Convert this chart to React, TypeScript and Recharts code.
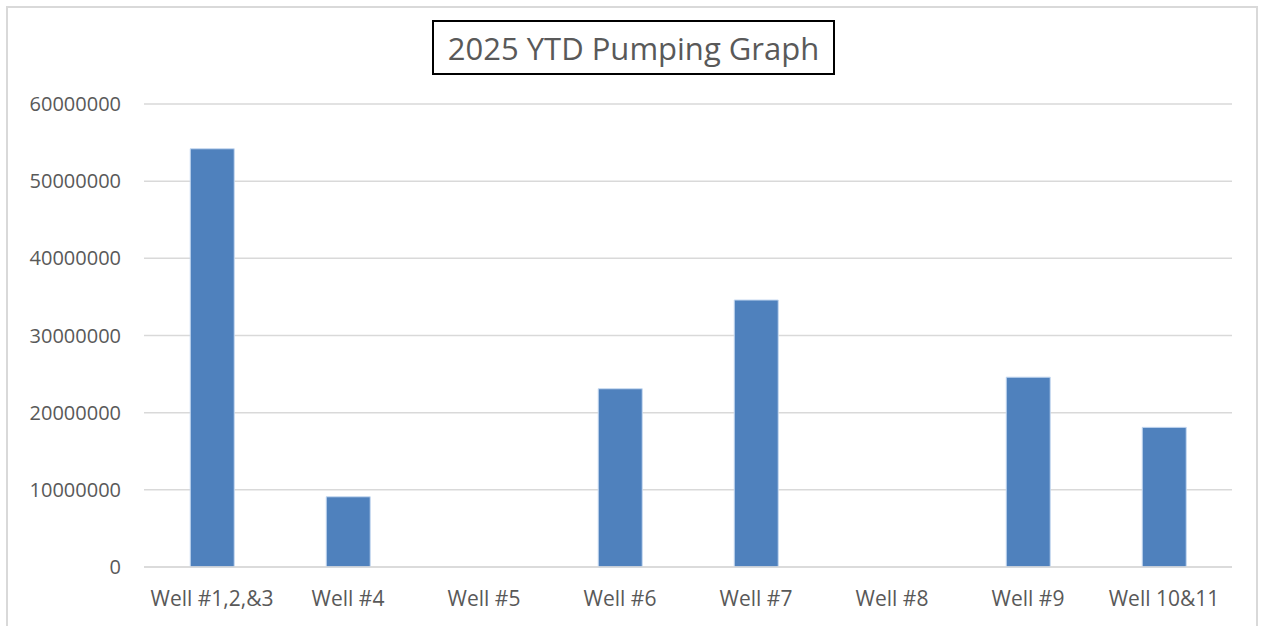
import React from "react";
import { BarChart, Bar, XAxis, YAxis, CartesianGrid } from "recharts";

const wells = ["Well #1,2,&3", "Well #4", "Well #5", "Well #6", "Well #7", "Well #8", "Well #9", "Well 10&11"];
const gallons = [54200000, 9100000, 0, 23100000, 34600000, 0, 24600000, 18100000];
const yTicks = [0, 10000000, 20000000, 30000000, 40000000, 50000000, 60000000];

const data = wells.map((w, i) => ({ name: w, value: gallons[i] }));

const FONT = "'Open Sans', 'Liberation Sans', sans-serif";

export default function App() {
  return (
    <div style={{ position: "absolute", left: 0, top: 0, width: 1261, height: 626, background: "#fff", overflow: "hidden" }}>
      <div
        style={{
          position: "absolute",
          left: 6,
          top: 6,
          width: 1252,
          height: 640,
          border: "2px solid #d9d9d9",
          boxSizing: "border-box",
        }}
      />
      <div
        style={{
          position: "absolute",
          left: 432,
          top: 20,
          width: 403,
          height: 55,
          border: "2px solid #000",
          boxSizing: "border-box",
          display: "flex",
          alignItems: "center",
          justifyContent: "center",
          fontFamily: FONT,
          fontSize: 31,
          color: "#595959",
          whiteSpace: "nowrap",
        }}
      >
        2025 YTD Pumping Graph
      </div>
      <BarChart
        width={1261}
        height={626}
        data={data}
        margin={{ top: 104, right: 29, bottom: 0, left: 0 }}
        barCategoryGap="34%"
      >
        <CartesianGrid vertical={false} stroke="#d9d9d9" strokeWidth={1.5} />
        <XAxis
          dataKey="name"
          height={59}
          axisLine={{ stroke: "#d9d9d9", strokeWidth: 1.5 }}
          tickLine={false}
          tickSize={0}
          tickMargin={24}
          tick={{ fill: "#595959", fontSize: 21, fontFamily: FONT }}
          interval={0}
        />
        <YAxis
          width={144}
          domain={[0, 60000000]}
          ticks={yTicks}
          axisLine={false}
          tickLine={false}
          tickSize={0}
          tickMargin={23}
          tick={{ fill: "#595959", fontSize: 20, fontFamily: FONT }}
        />
        <Bar dataKey="value" fill="#4f81bd" stroke="#c6d9f1" strokeWidth={1} isAnimationActive={false} />
      </BarChart>
    </div>
  );
}
